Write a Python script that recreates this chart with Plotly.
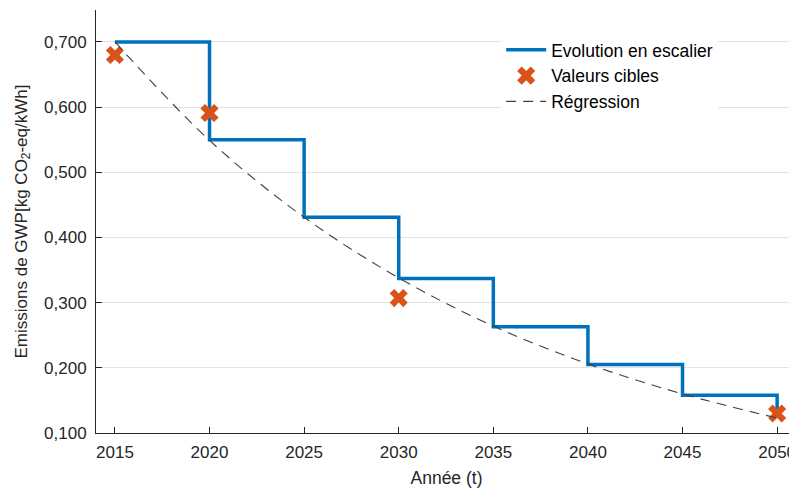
import plotly.graph_objects as go

# step evolution (value held over each 5-year period, last point = 2050 end value)
step_years = [2015, 2020, 2025, 2030, 2035, 2040, 2045, 2050]
step_values = [0.700, 0.550, 0.431, 0.337, 0.263, 0.205, 0.158, 0.128]

# target values
target_years = [2015, 2020, 2030, 2050]
target_values = [0.680, 0.591, 0.307, 0.130]

# regression curve
reg_years = [2015, 2020, 2025, 2030, 2035, 2040, 2045, 2050]
reg_values = [0.700, 0.549, 0.431, 0.338, 0.264, 0.206, 0.160, 0.123]

x_ticks = [2015, 2020, 2025, 2030, 2035, 2040, 2045, 2050]
y_ticks = [0.1, 0.2, 0.3, 0.4, 0.5, 0.6, 0.7]

blue = '#0072BD'
orange = '#D95319'

fig = go.Figure()

fig.add_trace(go.Scatter(
    x=step_years, y=step_values, mode='lines', line_shape='hv',
    line=dict(color=blue, width=3.5),
    name='Evolution en escalier'
))
fig.add_trace(go.Scatter(
    x=target_years, y=target_values, mode='markers',
    marker=dict(symbol='x', size=16, color=orange, line=dict(width=0)),
    name='Valeurs cibles'
))
fig.add_trace(go.Scatter(
    x=reg_years, y=reg_values, mode='lines', line_shape='spline',
    line=dict(color='#404040', width=1.1, dash='10px,7px'),
    name='Régression'
))

font = 'Liberation Sans, Arial, sans-serif'

# page body adds ~8px offset, so the figure is a bit smaller than the window
fig.update_layout(
    width=789, height=482,
    margin=dict(l=88, r=0, t=2, b=57),
    plot_bgcolor='white', paper_bgcolor='white',
    separators=', ',
    font=dict(family=font, size=17, color='#262626'),
    showlegend=True,
    legend=dict(
        x=0.578, y=0.948, xanchor='left', yanchor='top',
        bgcolor='white', borderwidth=0,
        font=dict(size=17.5, color='#000000'),
        itemwidth=40, tracegroupgap=0,
    ),
)

fig.update_xaxes(
    range=[2014, 2051.05],
    tickvals=x_ticks, ticktext=[str(t) for t in x_ticks],
    ticks='inside', ticklen=6, tickcolor='#262626',
    ticklabelstandoff=4,
    showline=True, linecolor='#262626', linewidth=1,
    showgrid=False, zeroline=False,
    title=dict(text='Année (t)', font=dict(size=17.5), standoff=10),
)
fig.update_yaxes(
    range=[0.1, 0.749],
    tickvals=y_ticks, tickformat='.3f',
    ticks='inside', ticklen=6, tickcolor='#262626',
    ticklabelstandoff=5,
    showline=True, linecolor='#262626', linewidth=1,
    showgrid=True, gridcolor='#e3e3e3', gridwidth=1,
    zeroline=False,
    title=dict(text='Emissions de GWP[kg CO<sub>2</sub>-eq/kWh]', font=dict(size=17), standoff=12),
)

fig.write_html('out.html')
